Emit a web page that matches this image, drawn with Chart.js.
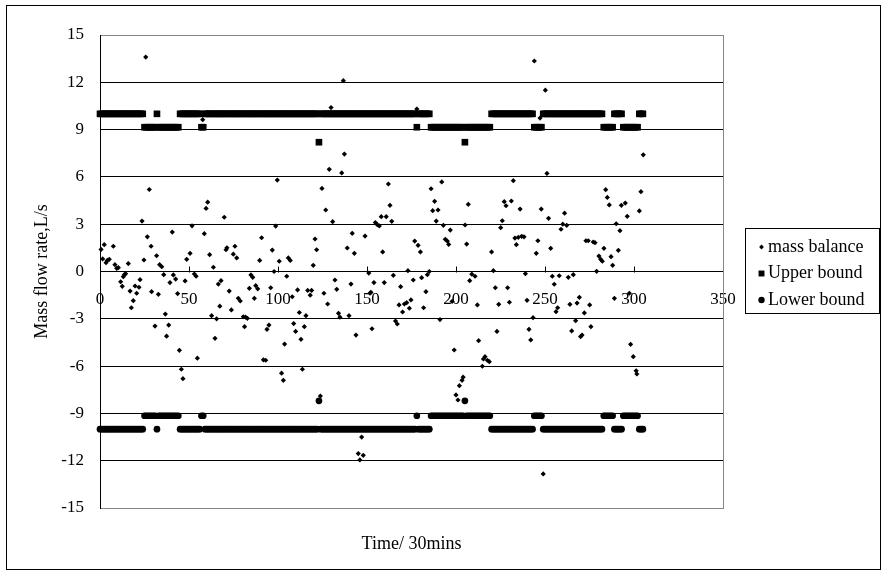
<!DOCTYPE html>
<html>
<head>
<meta charset="utf-8">
<script src="https://cdn.jsdelivr.net/npm/chart.js@4.4.1/dist/chart.umd.min.js"></script>
<style>
  html, body { margin: 0; padding: 0; background: #ffffff; }
  #wrap { width: 882px; height: 571px; position: relative; }
</style>
</head>
<body>
<div id="wrap"><canvas id="chart" width="882" height="571"></canvas></div>
<script>
// Measured mass balance, one reading per 30-minute step
const massTime = [
  0.6, 1.5, 2.4, 3.4, 4.1, 5.2, 7.5, 8.4, 9.4, 10.3, 11.6, 12.5, 13.1, 13.7, 14.4, 15.9, 16.9, 17.6, 18.7, 19.7,
  20.6, 21.9, 22.5, 23.6, 24.7, 25.7, 26.6, 27.7, 28.7, 29.0, 30.9, 31.8, 32.8, 33.5, 34.7, 35.8, 36.7, 37.4, 38.6, 39.3,
  40.6, 41.2, 42.5, 43.6, 44.6, 45.7, 46.6, 47.8, 48.7, 50.6, 51.7, 53.0, 54.0, 54.7, 57.7, 58.6, 59.6, 60.5, 61.6, 62.7,
  63.7, 64.6, 65.5, 66.5, 67.3, 68.0, 69.8, 70.8, 71.3, 72.6, 73.8, 74.9, 75.8, 76.8, 77.7, 78.8, 80.5, 81.2, 81.8, 82.8,
  83.9, 84.8, 85.8, 86.7, 87.5, 88.6, 89.7, 90.8, 91.8, 93.1, 93.8, 94.9, 95.9, 96.8, 97.8, 98.7, 99.6, 100.7, 102.0, 103.0,
  103.7, 104.9, 105.8, 106.9, 108.0, 108.8, 109.9, 111.0, 112.0, 112.9, 113.7, 114.8, 115.7, 116.7, 118.1, 118.9, 119.8, 120.8, 121.7, 123.8,
  124.7, 125.8, 126.8, 127.9, 128.8, 129.8, 130.7, 132.0, 133.0, 134.0, 134.8, 135.8, 136.7, 137.3, 138.9, 139.9, 141.0, 141.7, 142.9, 143.8,
  145.1, 146.0, 147.0, 147.9, 148.9, 151.0, 151.7, 152.2, 152.8, 153.9, 154.7, 155.8, 156.9, 158.0, 158.8, 159.7, 160.8, 162.0, 162.9, 163.9,
  164.8, 166.0, 167.0, 168.0, 168.9, 170.0, 171.0, 172.3, 173.0, 173.8, 174.7, 176.0, 176.8, 178.0, 178.7, 180.0, 180.7, 181.8, 183.1, 183.9,
  185.0, 186.0, 186.9, 188.0, 188.9, 189.9, 191.0, 192.0, 192.9, 194.0, 195.1, 195.9, 196.8, 197.8, 199.0, 200.0, 201.1, 201.9, 203.4, 204.0,
  205.1, 206.0, 206.9, 207.7, 208.9, 210.7, 212.0, 212.7, 214.8, 215.4, 216.3, 217.6, 218.7, 220.0, 221.0, 222.1, 223.0, 224.0, 225.1, 226.0,
  227.1, 228.1, 229.0, 230.0, 231.1, 232.2, 233.1, 233.9, 235.0, 236.0, 236.9, 238.2, 239.0, 239.9, 241.0, 242.0, 243.3, 244.0, 245.1, 246.0,
  247.2, 247.9, 249.0, 250.2, 251.1, 252.0, 253.2, 254.1, 255.2, 256.2, 257.1, 258.0, 259.0, 260.0, 261.0, 262.2, 263.1, 264.0, 265.0, 265.9,
  267.2, 268.0, 269.3, 270.0, 270.8, 272.1, 273.0, 274.3, 275.1, 275.8, 277.1, 278.1, 279.0, 280.3, 281.3, 282.2, 283.1, 284.1, 285.0, 286.1,
  287.1, 288.0, 289.0, 290.0, 291.2, 292.1, 292.9, 295.1, 296.2, 297.4, 298.1, 299.6, 301.2, 301.6, 303.0, 303.9, 305.2
];
const massValue = [
  1.4, 0.8, 1.7, 0.56, 0.7, 0.77, 1.6, 0.43, 0.2, 0.24, -0.65, -0.94, -0.33, -0.2, -0.14, 0.5, -1.24, -2.3, -1.85, -0.92,
  -1.38, -1.0, -0.52, 3.2, 0.73, 13.6, 2.2, 5.2, 1.6, -1.28, -3.46, 1.0, -1.45, 0.43, 0.3, -0.2, -2.7, -4.1, -3.4, -0.7,
  2.5, -0.22, -0.48, -1.4, -5.0, -6.2, -6.8, -0.6, 0.77, 1.15, 2.9, -0.16, -0.3, -5.5, 9.63, 2.4, 4.0, 4.4, 1.07, -2.8,
  0.27, -4.24, -3.0, -0.8, -2.2, -0.58, 3.44, 1.38, 1.5, -1.24, -2.44, 1.1, 1.6, 0.86, -1.7, -1.87, -2.87, -3.5, -2.9, -2.97,
  -1.07, -0.22, -0.37, -1.7, -0.9, -1.1, 0.7, 2.14, -5.6, -5.63, -3.67, -3.4, -1.03, 1.36, 0.0, 2.88, 5.8, 0.65, -6.45, -6.9,
  -4.6, -0.3, 0.86, 0.7, -1.6, -3.3, -3.8, -1.17, -2.6, -4.3, -6.2, -3.5, -2.8, -1.2, -1.5, -1.2, 0.39, 2.06, 1.38, -7.9,
  5.27, -1.38, 3.9, -2.06, 6.48, 10.4, 3.16, -0.54, -1.13, -2.65, -2.9, 6.25, 12.1, 7.45, 1.49, -2.8, -0.8, 2.42, 1.15, -4.03,
  -11.55, -11.95, -10.5, -11.66, 2.25, -0.1, -1.38, -1.32, -3.63, -0.7, 3.1, 2.97, 2.89, 3.48, 1.24, -0.7, 3.48, 5.55, 4.2, 3.18,
  -0.24, -3.14, -3.33, -2.12, -0.96, -2.57, -2.06, -1.98, 0.05, -2.33, -1.8, -0.54, 1.93, 10.3, 1.66, 1.24, -0.39, -2.3, -1.28, -0.2,
  0.0, 5.25, 3.86, 4.45, 3.2, 3.9, -3.05, 5.68, 2.93, 2.04, 1.93, 1.72, 2.63, -1.9, -4.98, -7.83, -8.15, -7.24, -6.9, -6.7,
  2.95, 1.74, 4.26, -0.58, -0.17, -0.3, -2.12, -4.39, -6.01, -5.55, -5.4, -5.63, -5.72, 1.24, 0.05, -1.03, -3.8, -2.08, 2.78, 3.22,
  4.43, 4.17, -1.03, -1.95, 4.47, 5.76, 2.12, 1.7, 2.17, 3.96, 2.23, 2.2, -0.14, -1.83, -3.67, -4.34, -2.93, 13.35, 1.15, 1.95,
  9.73, 3.96, -12.84, 11.5, 6.22, 3.37, 1.47, -0.3, -0.81, -2.55, -2.3, -0.27, 2.68, 3.0, 3.7, 2.93, -0.37, -2.08, -3.77, -0.2,
  -3.12, -2.0, -1.64, -4.13, -4.03, -2.63, 1.95, 1.95, -2.12, -3.5, 1.87, 1.83, 0.01, 0.98, 0.77, 0.65, 1.47, 5.19, 4.7, 4.22,
  0.94, 0.39, -1.7, 3.03, 1.34, 2.59, 4.2, 4.34, 3.5, -1.38, -4.62, -5.4, -6.3, -6.5, 3.84, 5.06, 7.4
];

// Control bounds, held constant over runs of time steps (first step, last step, level)
const runStart   = [0,  25,   32, 33,   45, 57,   59, 123, 124, 178,  179, 186,  205, 206,  220, 244,  249, 283,  289, 294,  303];
const runEnd     = [24, 31,   32, 44,   56, 58,   122, 123, 177, 178,  185, 204,  205, 219,  243, 248,  282, 288,  293, 302,  305];
const upperLevel = [10, 9.15, 10, 9.15, 10, 9.15, 10, 8.2, 10, 9.15, 10, 9.15, 8.2, 9.15, 10, 9.15, 10, 9.15, 10, 9.15, 10];
const lowerLevel = [-10, -9.15, -10, -9.15, -10, -9.15, -10, -8.2, -10, -9.15, -10, -9.15, -8.2, -9.15, -10, -9.15, -10, -9.15, -10, -9.15, -10];

// Axes
const xTickValues = [0, 50, 100, 150, 200, 250, 300, 350];
const yTickValues = [-15, -12, -9, -6, -3, 0, 3, 6, 9, 12, 15];
const seriesNames = ['mass balance', 'Upper bound', 'Lower bound'];
const xTitle = 'Time/ 30mins';
const yTitle = 'Mass flow rate,L/s';

const FONT = 'Liberation Serif';

function expandRuns(levels) {
  const pts = [];
  for (let i = 0; i < runStart.length; i++) {
    for (let t = runStart[i]; t <= runEnd[i]; t++) pts.push({ x: t, y: levels[i] });
  }
  return pts;
}

const massPoints = massTime.map((t, i) => ({ x: t, y: massValue[i] }));

// Small inward tick marks on the zero axis, the grey frame and the outer border
const framePlugin = {
  id: 'frame',
  afterDraw(chart) {
    const { ctx, chartArea, scales } = chart;
    const x = scales.x, y = scales.y;
    const y0 = Math.round(y.getPixelForValue(0)) + 0.5;
    ctx.save();
    ctx.lineWidth = 1;
    ctx.strokeStyle = '#000';
    xTickValues.forEach(v => {
      if (v === 0) return;
      const px = Math.round(x.getPixelForValue(v)) + 0.5;
      ctx.beginPath();
      ctx.moveTo(px, y0);
      ctx.lineTo(px, y0 - 6);
      ctx.stroke();
    });
    ctx.strokeStyle = '#868686';
    const rx = Math.round(chartArea.right) + 0.5;
    ctx.beginPath();
    ctx.moveTo(rx, Math.round(chartArea.top));
    ctx.lineTo(rx, Math.round(chartArea.bottom) + 1);
    ctx.stroke();
    ctx.strokeStyle = '#000';
    ctx.strokeRect(6.5, 5.5, 874, 564);
    ctx.restore();
  }
};

// Boxed legend to the right of the plot
const boxLegendPlugin = {
  id: 'boxLegend',
  afterDraw(chart) {
    const { ctx } = chart;
    const box = { left: 745.5, top: 228.5, width: 134, height: 85 };
    ctx.save();
    ctx.strokeStyle = '#000';
    ctx.lineWidth = 1;
    ctx.strokeRect(box.left, box.top, box.width, box.height);
    const rows = [247, 273.5, 300];
    chart.data.datasets.forEach((ds, i) => {
      const cy = rows[i];
      ctx.fillStyle = '#000';
      ctx.strokeStyle = '#000';
      Chart.helpers.drawPoint(ctx, {
        pointStyle: ds.pointStyle,
        radius: ds.legendRadius,
        rotation: 0,
        borderWidth: 0
      }, 761.5, cy);
      ctx.fillStyle = '#000';
      ctx.font = '18px "' + FONT + '"';
      ctx.textAlign = 'left';
      ctx.textBaseline = 'middle';
      ctx.fillText(ds.label, 768, cy);
    });
    ctx.restore();
  }
};

new Chart(document.getElementById('chart'), {
  type: 'scatter',
  data: {
    datasets: [
      {
        label: seriesNames[0],
        data: massPoints,
        pointStyle: 'rectRot',
        pointRadius: 2.6,
        pointBorderWidth: 0,
        backgroundColor: '#000',
        borderColor: '#000',
        legendRadius: 2.4,
        clip: false
      },
      {
        label: seriesNames[1],
        data: expandRuns(upperLevel),
        pointStyle: 'rect',
        pointRadius: 4.7,
        pointBorderWidth: 0,
        backgroundColor: '#000',
        borderColor: '#000',
        legendRadius: 4.2,
        clip: false
      },
      {
        label: seriesNames[2],
        data: expandRuns(lowerLevel),
        pointStyle: 'circle',
        pointRadius: 3.35,
        pointBorderWidth: 0,
        backgroundColor: '#000',
        borderColor: '#000',
        legendRadius: 3.2,
        clip: false
      }
    ]
  },
  options: {
    responsive: false,
    animation: false,
    devicePixelRatio: 1,
    events: [],
    layout: { padding: { left: 10, right: 159, top: 35, bottom: 8 } },
    plugins: {
      legend: { display: false },
      tooltip: { enabled: false }
    },
    scales: {
      x: {
        type: 'linear',
        position: { y: 0 },
        min: 0,
        max: 350,
        afterBuildTicks: s => { s.ticks = xTickValues.map(v => ({ value: v })); },
        ticks: { color: '#000', font: { family: FONT, size: 17 }, padding: 18, maxRotation: 0 },
        grid: { display: false, drawTicks: false },
        border: { display: true, color: '#000', width: 1 }
      },
      xt: {
        type: 'linear',
        position: 'bottom',
        min: 0,
        max: 1,
        ticks: { display: false },
        grid: { display: false, drawTicks: false },
        border: { display: false },
        title: {
          display: true,
          text: xTitle,
          color: '#000',
          font: { family: FONT, size: 18 },
          padding: { top: 25.2, bottom: 8.2 }
        }
      },
      y: {
        type: 'linear',
        position: 'left',
        min: -15,
        max: 15,
        afterBuildTicks: s => { s.ticks = yTickValues.map(v => ({ value: v })); },
        afterFit: s => { s.width = 90; },
        ticks: { color: '#000', font: { family: FONT, size: 17 }, padding: 16 },
        grid: {
          drawTicks: false,
          color: c => (c.tick && Math.abs(c.tick.value) === 15) ? '#868686' : '#000',
          lineWidth: 1
        },
        border: { display: true, color: '#000', width: 1 },
        title: {
          display: true,
          text: yTitle,
          color: '#000',
          font: { family: FONT, size: 18 },
          padding: { top: 21, bottom: 10 }
        }
      }
    }
  },
  plugins: [framePlugin, boxLegendPlugin]
});
</script>
</body>
</html>
